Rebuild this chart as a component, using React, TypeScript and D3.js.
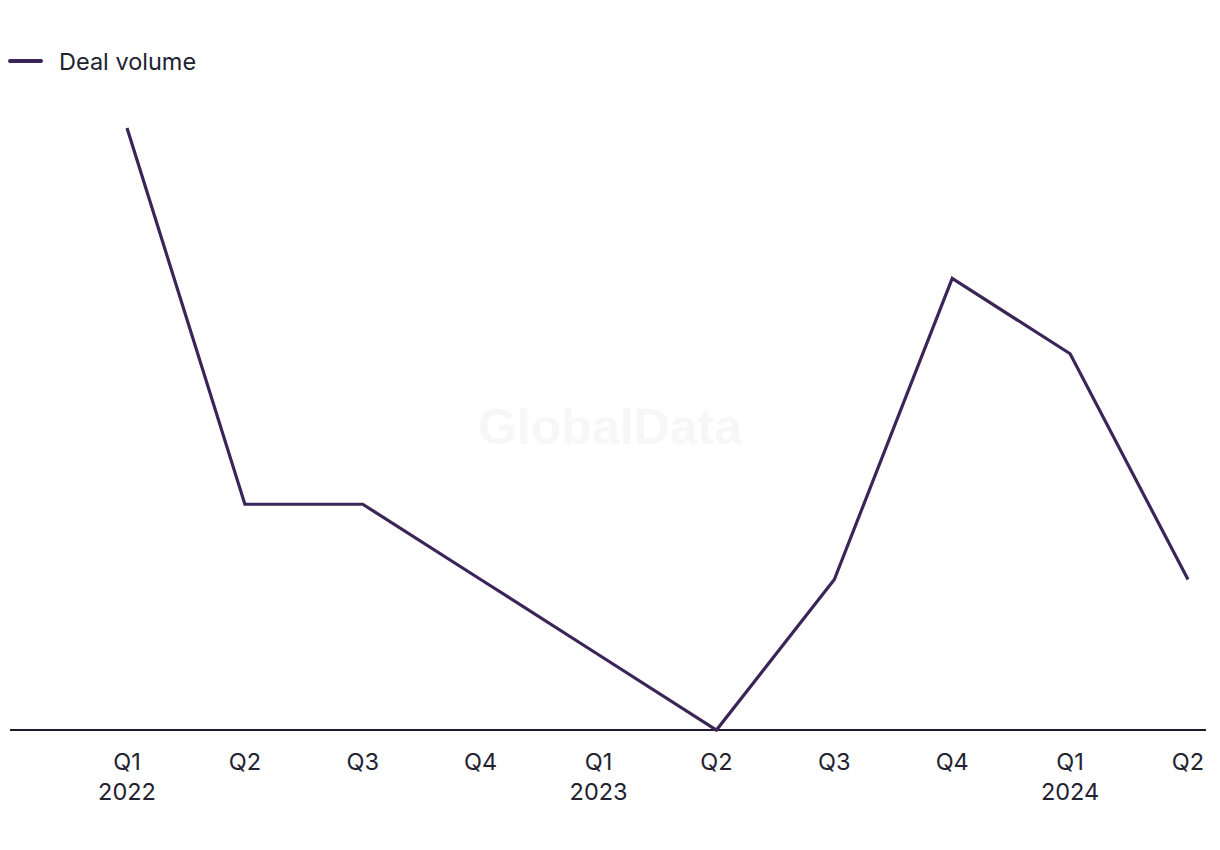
import React from "react";
import * as d3 from "d3";

const quarters = ["Q1", "Q2", "Q3", "Q4", "Q1", "Q2", "Q3", "Q4", "Q1", "Q2"];
const years = ["2022", "", "", "", "2023", "", "", "", "2024", ""];
const dealVolume = [8, 3, 3, 2, 1, 0, 2, 6, 5, 2];
const seriesName = "Deal volume";

const W = 1220;
const H = 850;
const FONT = "Inter, 'Noto Sans', sans-serif";
const LINE_COLOR = "#3b2457";
const AXIS_COLOR = "#1c1a2e";
const TEXT_COLOR = "#222230";

export default function App() {
  const keys = quarters.map((q, i) => `${q}-${i}`);
  const x = d3.scalePoint<string>().domain(keys).range([127, 1188]);
  const y = d3.scaleLinear().domain([0, 8]).range([730, 128]);
  const line = d3
    .line<number>()
    .x((_, i) => x(keys[i]) as number)
    .y((d) => y(d));

  return (
    <svg
      width={W}
      height={H}
      style={{ position: "absolute", left: 0, top: 0, display: "block" }}
      fontFamily={FONT}
    >
      <rect width={W} height={H} fill="#ffffff" />
      <text
        x={610}
        y={444}
        textAnchor="middle"
        fontSize={50}
        fontWeight={700}
        fill="#f7f7f7"
        fontFamily="'Liberation Sans', Arial, sans-serif"
      >
        GlobalData
      </text>
      {/* legend */}
      <line x1={10} x2={41} y1={61} y2={61} stroke={LINE_COLOR} strokeWidth={4} strokeLinecap="round" />
      <text x={59} y={70} fontSize={23.5} fill={TEXT_COLOR}>
        {seriesName}
      </text>
      {/* baseline axis */}
      <line x1={10} x2={1206} y1={730} y2={730} stroke={AXIS_COLOR} strokeWidth={2} />
      {keys.map((k, i) => (
        <g key={k} transform={`translate(${x(k)},0)`}>
          <text y={770} textAnchor="middle" fontSize={23.5} fill={TEXT_COLOR}>
            {quarters[i]}
          </text>
          {years[i] && (
            <text y={800} textAnchor="middle" fontSize={23.5} fill={TEXT_COLOR}>
              {years[i]}
            </text>
          )}
        </g>
      ))}
      <path d={line(dealVolume) ?? ""} fill="none" stroke={LINE_COLOR} strokeWidth={3.2} strokeLinejoin="miter" />
    </svg>
  );
}
